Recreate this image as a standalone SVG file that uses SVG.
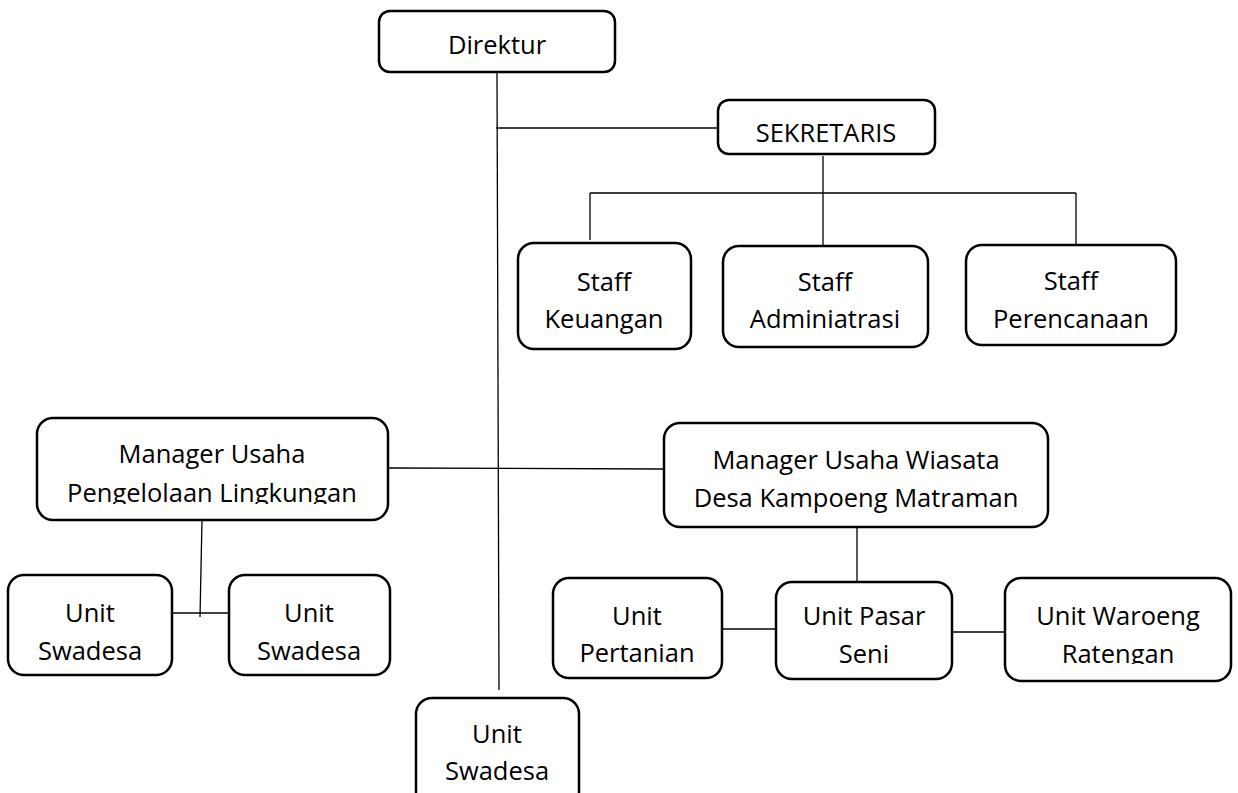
<svg xmlns="http://www.w3.org/2000/svg" width="1238" height="793" viewBox="0 0 1238 793">
<style>
.box{fill:#fff;stroke:#000;stroke-width:2.5}
.t{font-family:"Open Sans","Noto Sans","Liberation Sans",sans-serif;font-size:25.5px;fill:#000;text-anchor:middle}
.c{stroke:#000;stroke-width:1.3;fill:none}
</style>
<defs>
<clipPath id="clipL"><rect x="0" y="0" width="1238" height="504"/></clipPath>
<clipPath id="clipP"><rect x="0" y="0" width="1238" height="329"/></clipPath>
<clipPath id="clipU"><rect x="0" y="0" width="1238" height="664"/></clipPath>
</defs>
<rect width="1238" height="793" fill="#fff"/>
<g id="connectors">
<line class="c" x1="497" y1="73" x2="499" y2="690"/>
<line class="c" x1="496" y1="128" x2="718" y2="128"/>
<line class="c" x1="823" y1="156" x2="823" y2="245"/>
<line class="c" x1="590" y1="193" x2="1076" y2="193"/>
<line class="c" x1="590" y1="193" x2="590" y2="240"/>
<line class="c" x1="1076" y1="193" x2="1076" y2="245"/>
<line class="c" x1="388" y1="468" x2="665" y2="469"/>
<line class="c" x1="202" y1="520" x2="200" y2="617"/>
<line class="c" x1="172" y1="613" x2="229" y2="613"/>
<line class="c" x1="857" y1="527" x2="857" y2="595"/>
<line class="c" x1="722" y1="629" x2="776" y2="629"/>
<line class="c" x1="952" y1="632" x2="1010" y2="632"/>
</g>
<g id="direktur"><rect class="box" x="379" y="11" width="236" height="61" rx="11"/><text class="t" x="497" y="54">Direktur</text></g>
<g id="sekretaris"><rect class="box" x="718" y="100" width="217" height="54" rx="11"/><text class="t" x="826" y="142">SEKRETARIS</text></g>
<g id="staff-keuangan"><rect class="box" x="518" y="243" width="173" height="106" rx="16"/><text class="t" x="604" y="291">Staff</text><text class="t" x="604" y="328">Keuangan</text></g>
<g id="staff-adminiatrasi"><rect class="box" x="723" y="246" width="205" height="101" rx="16"/><text class="t" x="825" y="291">Staff</text><text class="t" x="825" y="328">Adminiatrasi</text></g>
<g id="staff-perencanaan"><rect class="box" x="966" y="245" width="210" height="100" rx="16"/><text class="t" x="1071" y="290">Staff</text><text class="t" x="1071" y="328" clip-path="url(#clipP)">Perencanaan</text></g>
<g id="manager-lingkungan"><rect class="box" x="37" y="418" width="351" height="102" rx="16"/><text class="t" x="212" y="463">Manager Usaha</text><text class="t" x="212" y="502" clip-path="url(#clipL)">Pengelolaan Lingkungan</text></g>
<g id="manager-wisata"><rect class="box" x="664" y="423" width="384" height="104" rx="16"/><text class="t" x="856" y="469">Manager Usaha Wiasata</text><text class="t" x="856" y="507">Desa Kampoeng Matraman</text></g>
<g id="unit-swadesa-1"><rect class="box" x="8" y="575" width="164" height="100" rx="16"/><text class="t" x="90" y="622">Unit</text><text class="t" x="90" y="660">Swadesa</text></g>
<g id="unit-swadesa-2"><rect class="box" x="229" y="575" width="161" height="100" rx="16"/><text class="t" x="309" y="622">Unit</text><text class="t" x="309" y="660">Swadesa</text></g>
<g id="unit-pertanian"><rect class="box" x="553" y="578" width="169" height="100" rx="16"/><text class="t" x="637" y="625">Unit</text><text class="t" x="637" y="662" clip-path="url(#clipU)">Pertanian</text></g>
<g id="unit-pasar-seni"><rect class="box" x="776" y="582" width="176" height="97" rx="16"/><text class="t" x="864" y="625">Unit Pasar</text><text class="t" x="864" y="663" clip-path="url(#clipU)">Seni</text></g>
<g id="unit-waroeng"><rect class="box" x="1005" y="578" width="226" height="103" rx="16"/><text class="t" x="1118" y="625">Unit Waroeng</text><text class="t" x="1118" y="663" clip-path="url(#clipU)">Ratengan</text></g>
<g id="unit-swadesa-3"><rect class="box" x="416" y="698" width="163" height="110" rx="16"/><text class="t" x="497" y="743">Unit</text><text class="t" x="497" y="780">Swadesa</text></g>
</svg>
